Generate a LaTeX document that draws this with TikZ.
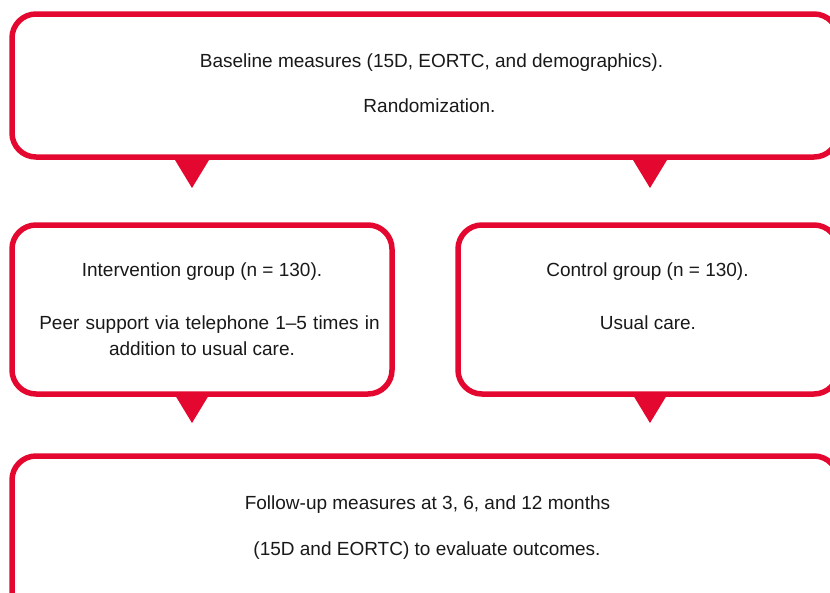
\documentclass[tikz,border=0pt]{standalone}
\usepackage{fontspec}
\setmainfont{Liberation Sans}
\usetikzlibrary{calc}
\definecolor{boxred}{RGB}{228,8,48}
\definecolor{txt}{RGB}{25,25,25}
\tikzset{
  rbox/.style={draw=boxred, line width=5.5pt, rounded corners=24pt, fill=white, inner sep=0pt},
  lbl/.style={font=\fontsize{19}{22}\selectfont, text=txt, anchor=base, inner sep=0pt},
  tri/.style={fill=boxred, draw=none}
}
\begin{document}
\begin{tikzpicture}[x=1pt,y=-1pt]
\useasboundingbox (0,0) rectangle (830,592);
\clip (0,0) rectangle (830,592);
\fill[white] (0,0) rectangle (830,592);
% boxes
\node[rbox, minimum width=826pt, minimum height=143pt] (top) at (425,85.5) {};
\node[rbox, minimum width=380pt, minimum height=169pt] (left) at (202,309.5) {};
\node[rbox, minimum width=380pt, minimum height=169pt] (right) at (648,309.5) {};
\node[rbox, minimum width=826pt, minimum height=180pt] (bot) at (425,546) {};
% connector triangles
\coordinate (t1) at (192,160);
\coordinate (t2) at (650,160);
\coordinate (m1) at (192,395);
\coordinate (m2) at (650,395);
\fill[tri] ($(t1)+(-17,0)$) -- ($(t1)+(17,0)$) -- ($(t1)+(0,28)$) -- cycle;
\fill[tri] ($(t2)+(-17,0)$) -- ($(t2)+(17,0)$) -- ($(t2)+(0,28)$) -- cycle;
\fill[tri] ($(m1)+(-17,0)$) -- ($(m1)+(17,0)$) -- ($(m1)+(0,28)$) -- cycle;
\fill[tri] ($(m2)+(-17,0)$) -- ($(m2)+(17,0)$) -- ($(m2)+(0,28)$) -- cycle;
% texts
\node[lbl] (a1) at (431.5,67.7) {Baseline measures (15D, EORTC, and demographics).};
\node[lbl] (a2) at (429.5,112.5) {Randomization.};
\node[lbl] (b1) at (202,276) {Intervention group (n = 130).};
\node[lbl] (b2) at (209.5,329.3) {\spaceskip=6.2pt Peer support via telephone 1–5 times in};
\node[lbl] (b3) at (202,355.5) {addition to usual care.};
\node[lbl] (c1) at (647.5,276) {Control group (n = 130).};
\node[lbl] (c2) at (648,329.3) {Usual care.};
\node[lbl] (d1) at (427.5,509.3) {Follow-up measures at 3, 6, and 12 months};
\node[lbl] (d2) at (427,555) {(15D and EORTC) to evaluate outcomes.};
\end{tikzpicture}
\end{document}
